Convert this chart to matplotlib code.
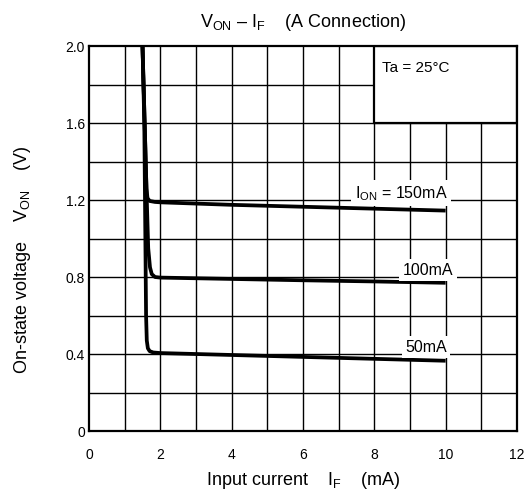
import matplotlib
matplotlib.use("Agg")
import matplotlib.pyplot as plt
from matplotlib.patches import Rectangle

plt.rcParams['font.family'] = ['Liberation Sans', 'DejaVu Sans']
plt.rcParams['mathtext.fontset'] = 'custom'
plt.rcParams['mathtext.rm'] = 'Liberation Sans'

if_150 = [1.50, 1.56, 1.61, 1.64, 1.70, 1.85, 2.0, 4.0, 6.0, 8.0, 10.0]
von_150 = [2.00, 1.60, 1.26, 1.21, 1.195, 1.19, 1.188, 1.175, 1.165, 1.155, 1.145]

if_100 = [1.50, 1.56, 1.62, 1.66, 1.71, 1.76, 1.85, 2.0, 4.0, 6.0, 8.0, 10.0]
von_100 = [2.00, 1.60, 1.20, 0.95, 0.85, 0.815, 0.80, 0.797, 0.79, 0.783, 0.777, 0.77]

if_50 = [1.50, 1.55, 1.58, 1.60, 1.62, 1.65, 1.70, 1.80, 2.0, 4.0, 6.0, 8.0, 10.0]
von_50 = [2.00, 1.60, 1.00, 0.60, 0.47, 0.43, 0.415, 0.408, 0.405, 0.395, 0.385, 0.375, 0.365]

curve_labels = [r"I$_{\rm ON}$ = 150mA", "100mA", "50mA"]
label_pos = [(8.75, 1.235), (9.5, 0.835), (9.45, 0.435)]

x_ticks = [0, 2, 4, 6, 8, 10, 12]
y_ticks = [0, 0.4, 0.8, 1.2, 1.6, 2.0]
y_ticklabels = ["0", "0.4", "0.8", "1.2", "1.6", "2.0"]

fig = plt.figure(figsize=(5.28, 5.04), dpi=100)
ax = fig.add_axes([0.1686, 0.1448, 0.8104, 0.7639])

ax.set_xlim(0, 12)
ax.set_ylim(0, 2.0)

# Gitter: jede mA und alle 0.2 V
for gx in range(1, 12):
    ax.axvline(gx, color='black', lw=1.0, zorder=1)
for k in range(1, 10):
    ax.axhline(k * 0.2, color='black', lw=1.0, zorder=1)

# Kasten fuer Ta oben rechts
ax.add_patch(Rectangle((8, 1.6), 4, 0.4, facecolor='white', edgecolor='black',
                       lw=1.6, zorder=2))
ax.text(8.22, 1.885, "Ta = 25°C", fontsize=11, va='center', ha='left', zorder=3)

for xs, ys in [(if_150, von_150), (if_100, von_100), (if_50, von_50)]:
    ax.plot(xs, ys, color='black', lw=2.7, solid_capstyle='butt', zorder=4)

for lab, (lx, ly) in zip(curve_labels, label_pos):
    ax.text(lx, ly, lab, fontsize=11.5, ha='center', va='center', zorder=5,
            bbox=dict(facecolor='white', edgecolor='none', pad=2.5))

ax.set_xticks(x_ticks)
ax.set_yticks(y_ticks)
ax.set_yticklabels(y_ticklabels)
ax.tick_params(axis='both', length=0, labelsize=10)
ax.tick_params(axis='x', pad=12)
ax.tick_params(axis='y', pad=3)

for sp in ax.spines.values():
    sp.set_linewidth(1.6)
    sp.set_zorder(6)

ax.set_title(r"V$_{\rm ON}$ – I$_{\rm F}$    (A Connection)", fontsize=13, pad=14)
ax.set_xlabel(r"Input current    I$_{\rm F}$    (mA)", fontsize=13, labelpad=6)
ax.set_ylabel(r"On-state voltage    V$_{\rm ON}$    (V)", fontsize=13)
ax.yaxis.set_label_coords(-0.13, 0.445)

fig.savefig("out.png", dpi=100)
